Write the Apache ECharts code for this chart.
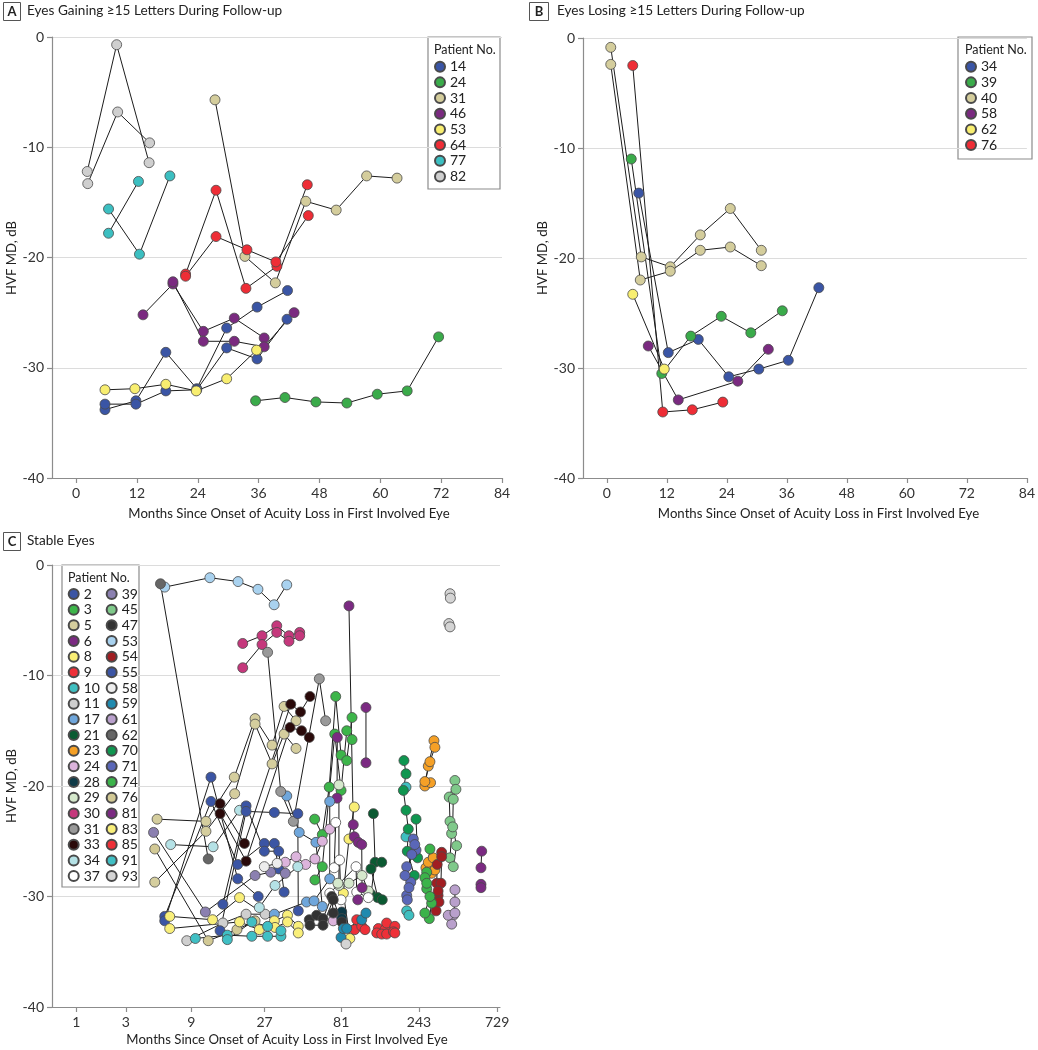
<!DOCTYPE html>
<html><head><meta charset="utf-8">
<script src="https://cdn.jsdelivr.net/npm/echarts@6/dist/echarts.min.js"></script>
<style>html,body{margin:0;padding:0;background:#fff}#c{width:1038px;height:1050px}</style>
</head><body><div id="c"></div>
<script>
// ---------------- Panel A: eyes gaining >=15 letters ----------------
const aIds = ['14','24','31','46','53','64','77','82'];
const aColors = ['#3a55a5','#3aab4a','#d4cd9c','#7a2a80','#f8ee70','#ee2d36','#3cbfc1','#cfcfcf'];
const A14 = [[[5.7,-33.8],[11.8,-33.0],[17.7,-28.6],[23.8,-31.9],[29.7,-26.4],[35.7,-24.5],[41.7,-23.0]],
             [[5.7,-33.3],[11.8,-33.3],[17.7,-32.1],[23.8,-32.0],[29.7,-28.2],[35.7,-29.2],[41.6,-25.6]]];
const A24 = [[[35.4,-33.0],[41.2,-32.7],[47.3,-33.1],[53.4,-33.2],[59.4,-32.4],[65.3,-32.1],[71.5,-27.2]]];
const A31 = [[[27.4,-5.7],[33.3,-19.9],[39.3,-22.3],[45.3,-14.9],[51.3,-15.7],[57.3,-12.6],[63.3,-12.8]]];
const A46 = [[[13.2,-25.2],[19.1,-22.4],[25.1,-26.7],[31.2,-25.5],[37.1,-27.3]],
             [[19.1,-22.2],[25.1,-27.6],[31.2,-27.6],[37.1,-28.1],[43.0,-25.0]]];
const A53 = [[[5.7,-32.0],[11.6,-31.9],[17.7,-31.5],[23.7,-32.1],[29.7,-31.0],[35.6,-28.4]]];
const A64 = [[[21.6,-21.5],[27.6,-13.9],[33.5,-22.8],[39.6,-20.8],[45.6,-13.4]],
             [[21.6,-21.7],[27.6,-18.1],[33.7,-19.3],[39.4,-20.4],[45.8,-16.2]]];
const A77 = [[[6.4,-15.6],[12.5,-19.7],[18.5,-12.6]],[[6.4,-17.8],[12.3,-13.1]]];
const A82 = [[[2.2,-12.2],[8.0,-0.7],[14.4,-11.4]],[[2.3,-13.3],[8.2,-6.8],[14.5,-9.6]]];
const aEyes = [A14,A24,A31,A46,A53,A64,A77,A82];

// ---------------- Panel B: eyes losing >=15 letters ----------------
const bIds = ['34','39','40','58','62','76'];
const bColors = ['#3a55a5','#3aab4a','#d4cd9c','#7a2a80','#f8ee70','#ee2d36'];
const B34 = [[[6.4,-14.1],[12.3,-28.6],[18.3,-27.4],[24.4,-30.8],[30.4,-30.1],[36.3,-29.3],[42.4,-22.7]]];
const B39 = [[[4.9,-11.0],[11.0,-30.5],[16.8,-27.1],[22.9,-25.3],[28.8,-26.8],[35.1,-24.8]]];
const B40 = [[[0.8,-0.85],[6.9,-19.9],[12.7,-20.8],[18.7,-17.9],[24.7,-15.5],[30.9,-19.3]],
             [[0.8,-2.4],[6.7,-22.0],[12.7,-21.2],[18.7,-19.3],[24.7,-19.0],[30.9,-20.7]]];
const B58 = [[[8.3,-28.0],[14.3,-32.9],[26.2,-31.2],[32.3,-28.3]]];
const B62 = [[[5.2,-23.3],[11.5,-30.1]]];
const B76 = [[[5.2,-2.5],[11.2,-34.0],[17.1,-33.8],[23.2,-33.1]]];
const bEyes = [B34,B39,B40,B58,B62,B76];

// ---------------- Panel C: stable eyes (months, dB) ----------------
const cIds = ['2','3','5','6','8','9','10','11','17','21','23','24','28','29','30','31','33','34','37',
              '39','45','47','53','54','55','58','59','61','62','70','71','74','76','81','83','85','91','93'];
const cColors = ['#3b55a4','#3db54a','#d5ce9e','#7b2a82','#f9ee75','#ee3038','#3fbfc0','#cfcfcf','#6fa6db','#0b5a32',
                 '#f5a026','#dcb4dc','#0e3a47','#d5e8cc','#c5387c','#999999','#2a0a0a','#b5e2e6','#ffffff',
                 '#8b80b0','#7fc98a','#333333','#a9d2ef','#a11e22','#3b55a4','#ededed','#1f8aaf','#b9a0cc','#666666',
                 '#0f9650','#5a67b8','#3bb34a','#d2c995','#7b2a82','#f9ef7a','#ee3038','#40bfc4','#d4d4d4'];
const C2  = [[[5.9,-31.8],[12.2,-21.4],[18.2,-27.1],[26.9,-25.2],[31.1,-25.2],[33.1,-27.5]],
             [[5.9,-32.2],[12.2,-19.2],[18.2,-28.4],[24.6,-30.0]]];
const C3  = [[[55.5,-23.0],[61.9,-24.4],[68.3,-20.1],[74.9,-11.9],[80.8,-17.2],[87.6,-17.7],[94.4,-13.8]],
             [[55.7,-28.5],[61.9,-27.3],[73.9,-15.3],[80.8,-20.4],[87.6,-15.0],[94.4,-15.8]]];
const C5  = [[[5.2,-23.0],[11.3,-23.2],[17.3,-19.2],[23.5,-13.9],[30.1,-16.3],[35.8,-12.8],[42.5,-14.1]],
             [[5.0,-28.7],[11.3,-24.1],[17.4,-20.7],[23.5,-14.4],[30.1,-18.0],[35.8,-15.3],[42.5,-16.6]]];
const C6  = [[[76.6,-15.6],[76.3,-21.1]]];
const C8  = [[[97.5,-21.9],[90.4,-24.8],[83.5,-29.7],[91.6,-33.8]]];
const C9  = [[[98.0,-33.0],[100.9,-32.1],[108.3,-32.7],[113.5,-33.0]]];
const C10 = [[[202.4,-20.1]],[[202.4,-24.6]],[[204.4,-31.3],[211.0,-31.7]]];
const C11 = [[[8.4,-34.0],[14.6,-32.4],[20.6,-31.6],[27.2,-31.6]]];
const C17 = [[[37.2,-20.9],[44.5,-24.2],[56.5,-25.1],[61.9,-30.9]],
             [[31.1,-31.6],[49.4,-30.5],[55.0,-30.4],[68.8,-28.4],[68.8,-21.4]]];
const C21 = [[[127.7,-22.5],[130.8,-26.9],[123.5,-29.8]],
             [[143.7,-26.9],[123.5,-27.5],[136.0,-30.1],[144.8,-30.3]]];
const C23 = [[[264,-20.0],[277,-18.2],[300,-15.9]],[[286,-19.7],[264,-19.6],[283.5,-17.8],[304,-16.5]],
             [[268,-27.4],[277,-26.9],[297,-26.5]],[[290,-27.9],[304,-27.6]]];
const C24 = [[[36.4,-26.9],[42.5,-26.4],[48.8,-27.1],[55.7,-26.6],[61.9,-25.0],[68.8,-23.9]],[[72.3,-32.2]]];
const C28 = [[[81.6,-31.4],[81.6,-32.0]]];
const C29 = [[[78.4,-19.9],[78.4,-29.0]],[[77.3,-28.8],[90.4,-28.8],[108.8,-28.1],[118.9,-29.5]]];
const C30 = [[[19.6,-7.1],[26.0,-6.4],[32.2,-5.5],[38.4,-6.4],[44.8,-6.1]],
             [[19.6,-9.3],[26.0,-7.2],[32.2,-6.1],[38.4,-6.9],[44.8,-6.4]]];
const C31 = [[[28.2,-7.9],[34.1,-20.5],[40.9,-23.2],[59.3,-10.3],[64.9,-14.1]]];
const C33 = [[[14.0,-21.6],[20.1,-25.2],[39.4,-12.6],[45.3,-13.3],[51.9,-11.9]],
             [[14.0,-22.5],[20.6,-26.8],[39.0,-14.7],[46.0,-15.0],[51.4,-15.6]]];
const C34 = [[[6.5,-25.3],[12.6,-25.5],[18.7,-22.2]],[[25.0,-31.0],[31.4,-29.0],[43.6,-27.3]]];
const C37 = [[[74.9,-23.3],[73.3,-27.4],[79.1,-26.7],[80.8,-30.3]],
             [[68.8,-29.7],[99.9,-27.3],[100.9,-29.6],[118.9,-30.1]]];
const C39 = [[[4.9,-24.2],[11.2,-31.4],[23.5,-28.1],[29.5,-27.8],[36.4,-27.9]]];
const C45 = [[[402.8,-19.5],[372,-21.0],[376,-23.2],[384.7,-24.3],[376,-26.5]],
             [[408.6,-20.3],[393.6,-21.2],[390.5,-23.7],[412.5,-25.4],[393.6,-27.3]]];
const C47 = [[[51.4,-32.1],[57.1,-31.7],[62.5,-32.0],[70.8,-30.0],[72.3,-31.5]],
             [[51.9,-32.6],[62.5,-32.6],[72.3,-30.3],[81.6,-32.3]]];
const C53 = [[[5.9,-2.0],[12.0,-1.15],[18.3,-1.5],[24.5,-2.2],[31.0,-3.6],[37.2,-1.8]]];
const C54 = [[[334.4,-26.0],[314,-27.1],[312,-28.8],[318,-29.9],[309,-31.3]],
             [[334.4,-26.4],[331,-28.8],[318,-29.5],[322,-30.5]]];
const C55 = [[[14.6,-30.7],[20.6,-21.8],[26.9,-25.9],[33.1,-25.9],[35.8,-29.6]],
             [[14.0,-33.1],[20.6,-22.3],[31.1,-22.4],[43.6,-22.5],[43.9,-31.3]]];
const C58 = [[[26.9,-27.3],[32.4,-27.0]]];
const C59 = [[[80.8,-33.7],[83.5,-32.9],[87.6,-32.9],[108.3,-32.1],[115.0,-31.5]]];
const C61 = [[[403,-29.4],[403,-30.5],[394,-31.7],[385,-32.5]],[[367,-31.7],[403,-31.5]]];
const C62 = [[[5.5,-1.7],[11.7,-26.6]]];
const C70 = [[[196.6,-17.7],[202.4,-18.9],[195,-20.4],[202.4,-22.2],[209,-23.9],[206.1,-25.9],[227.5,-28.1]],
             [[233.1,-23.0],[238.5,-26.5]]];
const C71 = [[[224.3,-24.8],[233,-25.8],[204.4,-27.3],[216.3,-28.7],[204.4,-29.9]],
             [[229,-25.3],[219.4,-26.2],[199.5,-28.1],[211,-29.2],[206.1,-30.3]]];
const C74 = [[[283.5,-25.7],[271,-27.8],[264,-28.3],[271,-29.3],[290.5,-30.6],[281,-32.0]],
             [[271,-28.8],[283.5,-30.0],[264,-31.5]]];
const C76 = [[[5.0,-25.7],[11.7,-34.0],[18.0,-33.0],[23.5,-32.2]]];
const C81 = [[[90.4,-3.7],[96.1,-23.5],[97.5,-24.6],[103.2,-25.1]],
             [[108.3,-25.3],[108.8,-29.2],[102.4,-30.3]],
             [[115,-12.9],[115,-17.9]],
             [[587,-25.9],[581,-27.4]],[[581,-28.9],[581,-29.2]]];
const C83 = [[[6.4,-31.8],[12.5,-32.1],[18.7,-30.1],[31.1,-32.2],[37.6,-31.7],[43.9,-32.7]],
             [[6.4,-32.9],[18.7,-32.3],[25.0,-33.0],[31.4,-32.8],[37.6,-32.3],[43.9,-33.3]]];
const C85 = [[[137,-32.9],[150.5,-33.0],[154,-32.4],[173,-32.7]],
             [[134,-33.3],[143.7,-33.4],[154,-33.4],[169.5,-33.2],[173,-33.3]]];
const C91 = [[[9.6,-33.8],[15.6,-33.5],[22.4,-33.6],[28.2,-33.6],[34.2,-33.6]],
             [[15.6,-33.9],[22.4,-32.3],[28.2,-32.7],[34.2,-33.1]]];
const C93 = [[[376,-2.6],[378,-3.0]],[[370,-5.3],[376,-5.6]],[[86.7,-34.3]]];
const cEyes = [C2,C3,C5,C6,C8,C9,C10,C11,C17,C21,C23,C24,C28,C29,C30,C31,C33,C34,C37,
               C39,C45,C47,C53,C54,C55,C58,C59,C61,C62,C70,C71,C74,C76,C81,C83,C85,C91,C93];

// tick labels
const linTicks = [0,12,24,36,48,60,72,84];
const logTicks = [1,3,9,27,81,243,729];

// ---------------- build ----------------
const FONT = 'Lato, "Noto Sans", sans-serif';
const log3 = v => Math.log(v) / Math.log(3);
const cx = m => log3(m + 1);   // panel C axis: log base 3 of (months + 1)

const series = [];
function addPanel(prefix, axisIdx, ids, colors, eyes, xf) {
  ids.forEach((id, i) => {
    eyes[i].forEach(eye => {
      const d = eye.map(p => [xf(p[0]), p[1]]);
      series.push({type:'line', name:'_line', xAxisIndex:axisIdx, yAxisIndex:axisIdx, data:d,
        symbol:'none', silent:true, animation:false, z:2,
        lineStyle:{color:'#1c1c1c', width:1}});
      series.push({type:'scatter', name:prefix + ' ' + id, xAxisIndex:axisIdx, yAxisIndex:axisIdx, data:d,
        symbol:'circle', symbolSize:10, animation:false, z:3,
        itemStyle:{color:colors[i], borderColor:'#4a4a4a', borderWidth:0.8, opacity:1}});
    });
  });
}
addPanel('A', 0, aIds, aColors, aEyes, m => m);
addPanel('B', 1, bIds, bColors, bEyes, m => m);
addPanel('C', 2, cIds, cColors, cEyes, cx);

const axisLineStyle = {show:true, onZero:false, lineStyle:{color:'#8c8c8c', width:1.2}};
const tickStyle = {show:true, length:5, lineStyle:{color:'#8c8c8c', width:1.2}};
const lblStyle = {color:'#333', fontSize:14, fontFamily:FONT, margin:8};

function yAx(gi) {
  return {type:'value', gridIndex:gi, min:-40, max:0, interval:10,
    axisLine:axisLineStyle, axisTick:tickStyle,
    axisLabel:Object.assign({}, lblStyle),
    splitLine:{show:true, lineStyle:{color:'#dcdcdc', width:1}}};
}
function xLin(gi) {
  return {type:'value', gridIndex:gi, min:-4.75, max:84,
    axisLine:axisLineStyle,
    axisTick:Object.assign({}, tickStyle, {customValues:linTicks}),
    axisLabel:Object.assign({}, lblStyle, {customValues:linTicks}),
    splitLine:{show:false}};
}
const cTickPos = logTicks.map(cx);
const xLog = {type:'value', gridIndex:2, min:log3(1.42), max:log3(760),
  axisLine:axisLineStyle,
  axisTick:Object.assign({}, tickStyle, {customValues:cTickPos}),
  axisLabel:Object.assign({}, lblStyle, {customValues:cTickPos,
    formatter: v => String(Math.round(Math.pow(3, v) - 1))}),
  splitLine:{show:false}};

function legend(prefix, ids, left, top, extra) {
  return Object.assign({
    data: ids.map(id => prefix + ' ' + id),
    formatter: n => n.slice(2),
    orient:'vertical', left:left, top:top, padding:0,
    icon:'circle', itemWidth:10, itemHeight:10, itemGap:0.67,
    selectedMode:false,
    textStyle:{fontSize:14, lineHeight:15, color:'#222', fontFamily:FONT}
  }, extra || {});
}

function txt(x, y, s, opts) {
  return Object.assign({type:'text', x:x, y:y, silent:true,
    style:Object.assign({text:s, fill:'#222', font:'13.6px ' + FONT, textAlign:'left', textVerticalAlign:'middle'}, (opts||{}).style || {})},
    (opts && opts.rotation) ? {rotation:opts.rotation} : {});
}
function box(x, y, w, h, lw, col) {
  return {type:'rect', silent:true, shape:{x:x, y:y, width:w, height:h},
    style:{fill:null, stroke:col || '#8c8c8c', lineWidth:lw || 1.2}};
}

const TF = '13.2px ' + FONT;
const graphic = [
  // panel headers
  box(3.5, 2.5, 17, 18, 1, '#555'), txt(12, 12, 'A', {style:{font:'bold 13px ' + FONT, textAlign:'center'}}),
  txt(27, 11, 'Eyes Gaining ≥15 Letters During Follow-up'),
  box(529.5, 2.5, 19, 18, 1, '#555'), txt(539, 12, 'B', {style:{font:'bold 13px ' + FONT, textAlign:'center'}}),
  txt(557, 11, 'Eyes Losing ≥15 Letters During Follow-up'),
  box(3.5, 532.5, 17, 18, 1, '#555'), txt(12, 542, 'C', {style:{font:'bold 13px ' + FONT, textAlign:'center'}}),
  txt(27, 541, 'Stable Eyes'),
  // legend frames and titles
  box(428, 37, 72, 152), txt(434, 50, 'Patient No.', {style:{font:'12.5px ' + FONT}}),
  box(958, 37, 74, 122), txt(965, 50, 'Patient No.', {style:{font:'12.5px ' + FONT}}),
  box(62, 565, 77, 322), txt(68, 578, 'Patient No.', {style:{font:'12.5px ' + FONT}}),
  // axis titles
  txt(289, 514, 'Months Since Onset of Acuity Loss in First Involved Eye', {style:{font:TF, textAlign:'center'}}),
  txt(818.5, 514, 'Months Since Onset of Acuity Loss in First Involved Eye', {style:{font:TF, textAlign:'center'}}),
  txt(287, 1040, 'Months Since Onset of Acuity Loss in First Involved Eye', {style:{font:TF, textAlign:'center'}}),
  txt(12, 258, 'HVF MD, dB', {rotation:Math.PI/2, style:{font:TF, textAlign:'center'}}),
  txt(543, 258, 'HVF MD, dB', {rotation:Math.PI/2, style:{font:TF, textAlign:'center'}}),
  txt(12, 786, 'HVF MD, dB', {rotation:Math.PI/2, style:{font:TF, textAlign:'center'}})
];

const option = {
  backgroundColor:'#fff',
  animation:false,
  textStyle:{fontFamily:FONT},
  grid:[
    {left:52, top:37, width:450, height:441},
    {left:583, top:38, width:447, height:440},
    {left:52, top:565, width:448, height:442}
  ],
  xAxis:[xLin(0), xLin(1), xLog],
  yAxis:[yAx(0), yAx(1), yAx(2)],
  legend:[
    legend('A', aIds, 434, 59.2),
    legend('B', bIds, 965, 59.2),
    legend('C', cIds, 67.7, 586.5, {height:300, textStyle:{fontSize:14, lineHeight:15, color:'#222', fontFamily:FONT, width:21.3}})
  ],
  graphic:graphic,
  series:series
};

const chart = echarts.init(document.getElementById('c'), null, {renderer:'canvas'});
chart.setOption(option);
</script></body></html>
